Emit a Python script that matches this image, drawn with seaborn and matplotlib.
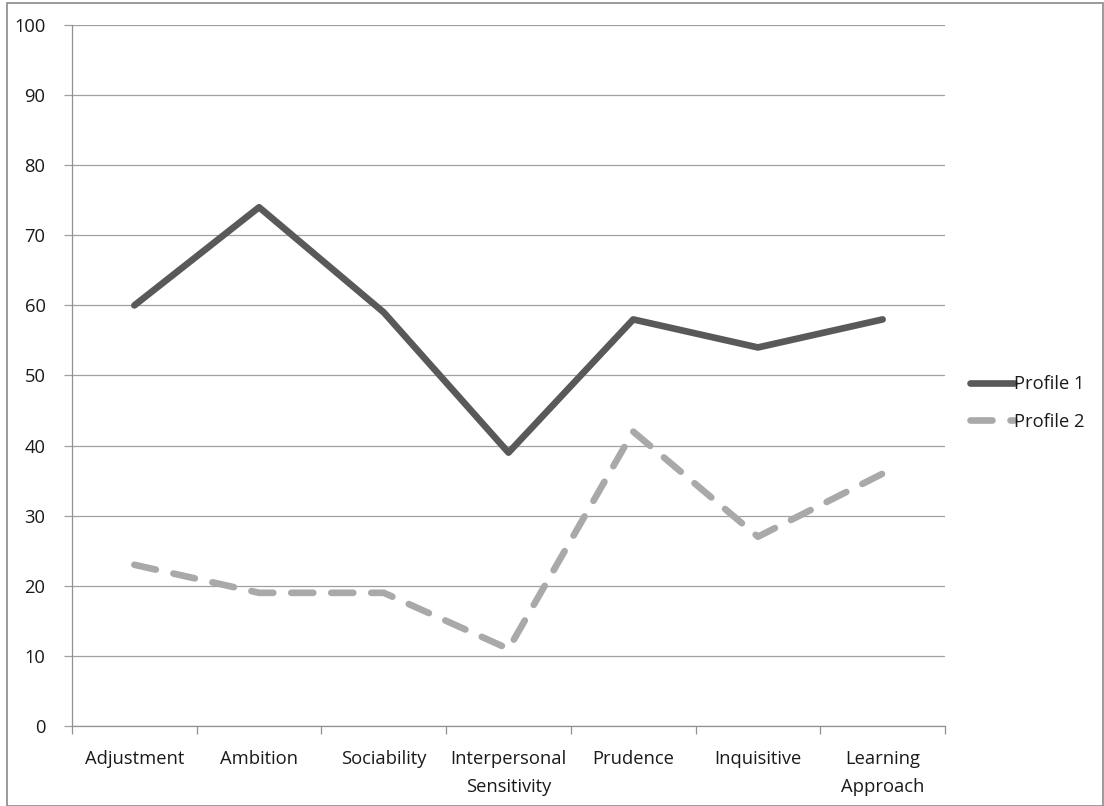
import matplotlib
matplotlib.use("Agg")
import matplotlib.pyplot as plt
import matplotlib.patches as mpatches
from matplotlib.lines import Line2D
from matplotlib.ticker import FixedLocator, NullFormatter
import seaborn as sns
import pandas as pd

scales = ["Adjustment", "Ambition", "Sociability", "Interpersonal\nSensitivity",
          "Prudence", "Inquisitive", "Learning\nApproach"]
profile_1 = [60, 74, 59, 39, 58, 54, 58]
profile_2 = [23, 19, 19, 11, 42, 27, 36]
y_ticks = [0, 10, 20, 30, 40, 50, 60, 70, 80, 90, 100]

sns.set_theme(style="white")
plt.rcParams["font.family"] = ["Open Sans", "DejaVu Sans"]

df = pd.DataFrame({
    "pos": list(range(len(scales))) * 2,
    "score": profile_1 + profile_2,
    "profile": ["Profile 1"] * len(scales) + ["Profile 2"] * len(scales),
})

fig = plt.figure(figsize=(11.04, 8.06), dpi=100)
ax = fig.add_axes([72 / 1104, 1 - 726 / 806, (945 - 72) / 1104, (726 - 25) / 806])

FS = 13.2
TXT = "#1a1a1a"
dash = (0, (3.3, 2.7))
colors = {"Profile 1": "#595959", "Profile 2": "#a9a9a9"}
sns.lineplot(data=df[df.profile == "Profile 1"], x="pos", y="score", ax=ax,
             color=colors["Profile 1"], linewidth=4.8, legend=False,
             solid_capstyle="round", solid_joinstyle="round")
sns.lineplot(data=df[df.profile == "Profile 2"], x="pos", y="score", ax=ax,
             color=colors["Profile 2"], linewidth=4.8, legend=False,
             dashes=False)
ax.lines[-1].set_linestyle(dash)
ax.lines[-1].set_dash_capstyle("round")
ax.lines[-1].set_dash_joinstyle("round")

ax.set_xlim(-0.5, len(scales) - 0.5)
ax.set_ylim(0, 100)
ax.set_xlabel("")
ax.set_ylabel("")

ax.set_yticks(y_ticks)
ax.set_yticklabels([str(t) for t in y_ticks], fontsize=FS, color=TXT)
ax.yaxis.grid(True, color="#a0a0a0", linewidth=0.9)
ax.set_axisbelow(True)

ax.set_xticks(range(len(scales)))
ax.set_xticklabels(scales, fontsize=FS, color=TXT, linespacing=1.75)
ax.xaxis.set_minor_locator(FixedLocator([i - 0.5 for i in range(len(scales) + 1)]))
ax.xaxis.set_minor_formatter(NullFormatter())
ax.tick_params(axis="x", which="major", length=0, pad=17)
ax.tick_params(axis="x", which="minor", bottom=True, length=6, width=0.9, color="#909090")
ax.tick_params(axis="y", which="major", left=True, length=6, width=0.9, color="#a0a0a0", pad=13)

for side in ["top", "right"]:
    ax.spines[side].set_visible(False)
for side in ["left", "bottom"]:
    ax.spines[side].set_color("#909090")
    ax.spines[side].set_linewidth(0.9)

handles = [
    Line2D([], [], color=colors["Profile 1"], linewidth=4.8, solid_capstyle="round"),
    Line2D([], [], color=colors["Profile 2"], linewidth=4.8, linestyle=dash,
           dash_capstyle="round"),
]
leg = fig.legend(handles, ["Profile 1", "Profile 2"], loc="center left",
                 bbox_to_anchor=(970 / 1104, 1 - 403 / 806), frameon=False,
                 fontsize=FS, handlelength=2.4, handletextpad=0.0, labelspacing=1.05,
                 borderpad=0.0, borderaxespad=0.0)
for t in leg.get_texts():
    t.set_color(TXT)

fig.patches.append(mpatches.Rectangle((7 / 1104, 0), 1 - 8 / 1104, 1 - 3 / 806,
                                      transform=fig.transFigure, fill=False,
                                      edgecolor="#8a8a8a", linewidth=1.2))

fig.savefig("out.png", dpi=100, facecolor="white")
